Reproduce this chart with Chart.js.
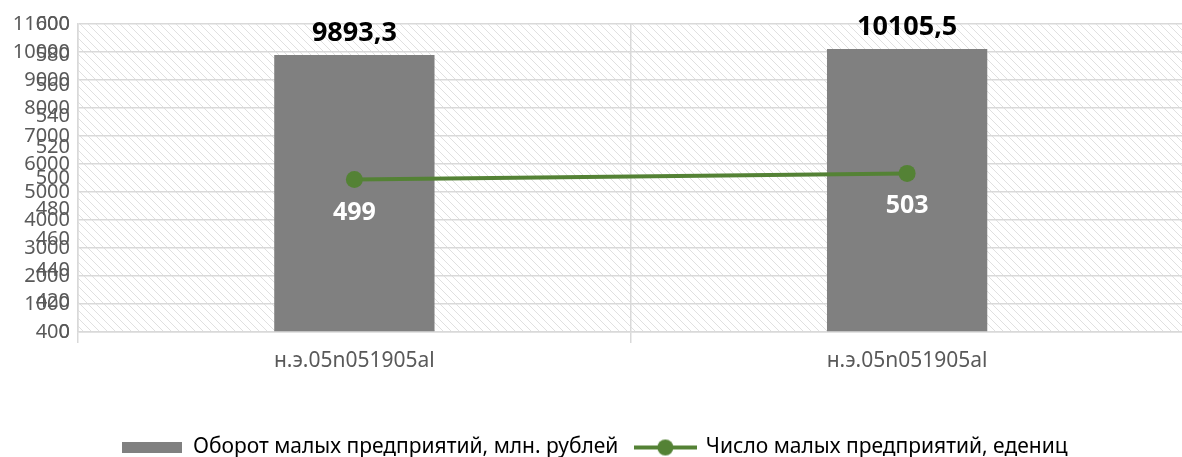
<!DOCTYPE html>
<html>
<head>
<meta charset="utf-8">
<script src="https://cdn.jsdelivr.net/npm/chart.js@4/dist/chart.umd.min.js"></script>
<style>
  body { margin: 0; background: #fff; overflow: hidden; }
  #wrap { width: 1192px; height: 468px; position: relative; }
</style>
</head>
<body>
<div id="wrap"><canvas id="chart"></canvas></div>
<script>
const categories = ['н.э.05n051905al', 'н.э.05n051905al'];
const turnover = [9893.3, 10105.5];   // Оборот, млн. рублей
const firms = [499, 503];             // Число предприятий
const turnoverAxis = [0, 11000, 1000];
const firmsAxis = [400, 600, 20];

const font = '"Noto Sans", sans-serif';
const textGrey = '#595959';
const gridGrey = '#d9d9d9';
const barGrey = '#808080';
const green = '#548235';

const fmt = v => String(v).replace('.', ',');

// hatched background tile
function hatch() {
  const c = document.createElement('canvas');
  c.width = 8; c.height = 8;
  const g = c.getContext('2d');
  g.strokeStyle = '#e0e0e0';
  g.lineWidth = 1;
  g.beginPath();
  g.moveTo(-1, -1); g.lineTo(9, 9);
  g.moveTo(-1, 7); g.lineTo(1, 9);
  g.moveTo(7, -1); g.lineTo(9, 1);
  g.stroke();
  return c;
}

function barIcon() {
  const c = document.createElement('canvas');
  c.width = 60; c.height = 11;
  const g = c.getContext('2d');
  g.fillStyle = barGrey;
  g.fillRect(0, 0, 60, 11);
  return c;
}

function lineIcon() {
  const c = document.createElement('canvas');
  c.width = 63; c.height = 18;
  const g = c.getContext('2d');
  g.strokeStyle = green;
  g.lineWidth = 4;
  g.beginPath(); g.moveTo(0, 9); g.lineTo(63, 9); g.stroke();
  g.fillStyle = green;
  g.beginPath(); g.arc(31.5, 9, 8, 0, Math.PI * 2); g.fill();
  return c;
}

const hatchBg = {
  id: 'hatchBg',
  beforeDraw(chart) {
    const { ctx, chartArea: a } = chart;
    ctx.save();
    ctx.fillStyle = ctx.createPattern(hatch(), 'repeat');
    ctx.fillRect(a.left, a.top, a.right - a.left, a.bottom - a.top);
    ctx.restore();
  }
};

// both value axes share the same strip on the left
const overlapAxes = {
  id: 'overlapAxes',
  afterLayout(chart) {
    const y = chart.scales.y, y2 = chart.scales.y2;
    y2.left = y.left;
    y2.right = y.right;
    y2.width = y.width;
  }
};

const valueLabels = {
  id: 'valueLabels',
  afterDatasetsDraw(chart) {
    const ctx = chart.ctx;
    ctx.save();
    ctx.textAlign = 'center';
    ctx.textBaseline = 'alphabetic';
    ctx.font = 'bold 27px ' + font;
    ctx.fillStyle = '#000';
    chart.getDatasetMeta(0).data.forEach((bar, i) => {
      ctx.fillText(fmt(turnover[i]), bar.x, bar.y - 14);
    });
    ctx.font = 'bold 25px ' + font;
    ctx.fillStyle = '#fff';
    chart.getDatasetMeta(1).data.forEach((pt, i) => {
      ctx.fillText(fmt(firms[i]), pt.x, pt.y + 40);
    });
    ctx.restore();
  }
};

new Chart(document.getElementById('chart'), {
  type: 'bar',
  data: {
    labels: categories,
    datasets: [
      {
        label: 'Оборот малых предприятий, млн. рублей',
        data: turnover,
        backgroundColor: barGrey,
        yAxisID: 'y',
        order: 2,
        categoryPercentage: 1,
        barPercentage: 0.29
      },
      {
        type: 'line',
        label: 'Число малых предприятий, едениц',
        data: firms,
        borderColor: green,
        backgroundColor: green,
        borderWidth: 4,
        pointRadius: 8.5,
        pointBackgroundColor: green,
        pointBorderWidth: 0,
        yAxisID: 'y2',
        order: 1
      }
    ]
  },
  options: {
    responsive: true,
    maintainAspectRatio: false,
    animation: false,
    layout: { padding: { top: 24, left: 0, right: 2, bottom: 0 } },
    plugins: {
      tooltip: { enabled: false },
      legend: {
        position: 'bottom',
        labels: {
          color: textGrey,
          font: { family: font, size: 21 },
          usePointStyle: true,
          pointStyleWidth: 60,
          boxHeight: 12,
          padding: 17,
          generateLabels: () => [
            { text: 'Оборот малых предприятий, млн. рублей', pointStyle: barIcon(), fillStyle: barGrey, strokeStyle: barGrey, lineWidth: 0, hidden: false, datasetIndex: 0 },
            { text: 'Число малых предприятий, едениц', pointStyle: lineIcon(), fillStyle: green, strokeStyle: green, lineWidth: 0, hidden: false, datasetIndex: 1 }
          ]
        }
      }
    },
    scales: {
      x: {
        grid: { color: gridGrey, lineWidth: 1.5, drawTicks: true, tickLength: 11 },
        border: { color: gridGrey, width: 1.5 },
        ticks: { color: textGrey, font: { family: font, size: 21 }, padding: 5, maxRotation: 0 },
        afterFit: s => { s.height = 88; }
      },
      y: {
        position: 'left',
        weight: 2,
        min: turnoverAxis[0],
        max: turnoverAxis[1],
        grid: { color: gridGrey, lineWidth: 1.5, drawTicks: false },
        border: { color: gridGrey, width: 1.5 },
        ticks: { stepSize: turnoverAxis[2], color: textGrey, font: { family: font, size: 20 }, padding: 8, callback: v => String(v) },
        afterFit: s => { s.width = 78; }
      },
      y2: {
        position: 'left',
        weight: 1,
        min: firmsAxis[0],
        max: firmsAxis[1],
        grid: { display: false, drawTicks: false },
        border: { display: false },
        ticks: { stepSize: firmsAxis[2], color: textGrey, font: { family: font, size: 20 }, padding: 8, callback: v => String(v) },
        afterFit: s => { s.width = 0; }
      }
    }
  },
  plugins: [hatchBg, overlapAxes, valueLabels]
});
</script>
</body>
</html>
